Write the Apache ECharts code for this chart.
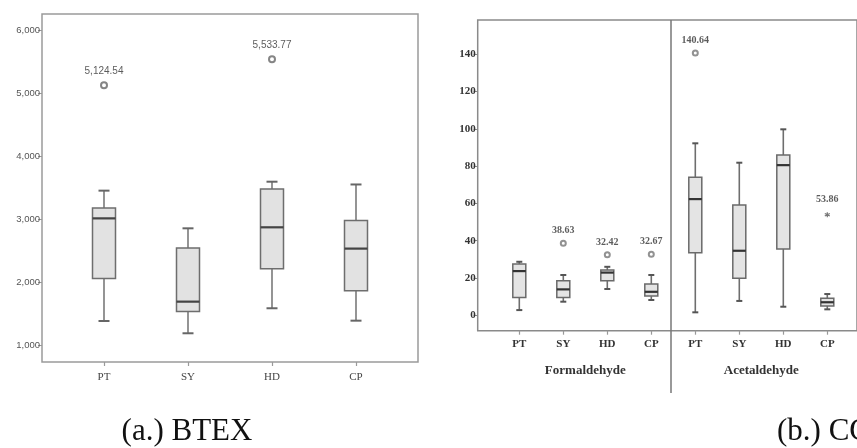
<!DOCTYPE html>
<html>
<head>
<meta charset="utf-8">
<script src="https://cdn.jsdelivr.net/npm/echarts@6/dist/echarts.min.js"></script>
<style>html,body{margin:0;padding:0;background:#fff}#c{width:857px;height:448px}</style>
</head>
<body>
<div id="c"></div>
<script>
// ---- data ----
const sites = ['PT', 'SY', 'HD', 'CP'];
// [min, Q1, median, Q3, max]
const btexBox = [
  [1381, 2055, 3010, 3175, 3450],
  [1186, 1532, 1688, 2538, 2852],
  [1583, 2212, 2868, 3476, 3592],
  [1386, 1860, 2530, 2978, 3548]
];
const btexOutliers = [[0, 5124.54], [2, 5533.77]];
const btexTicks = [1000, 2000, 3000, 4000, 5000, 6000];

const formBox = [
  [2.8, 9.6, 23.7, 27.5, 28.7],
  [7.3, 9.6, 13.9, 18.5, 21.6],
  [14.1, 18.5, 22.9, 24.3, 26.0],
  [8.2, 10.3, 12.6, 16.8, 21.6]
];
const formOutliers = [[1, 38.63], [2, 32.42], [3, 32.67]];

const acetBox = [
  [1.6, 33.5, 62.3, 74.0, 92.2],
  [7.7, 19.8, 34.6, 59.1, 81.8],
  [4.6, 35.5, 80.5, 85.9, 99.7],
  [3.2, 5.0, 7.0, 9.1, 11.4]
];
const acetOutliers = [[0, 140.64]];
const acetExtremes = [[3, 53.86]];
const ccTicks = [0, 20, 40, 60, 80, 100, 120, 140];

// ---- helpers ----
function boxRender(boxW, capW, colors) {
  return function (params, api) {
    const x = api.value(0);
    const pMin = api.coord([x, api.value(1)]);
    const pQ1 = api.coord([x, api.value(2)]);
    const pMed = api.coord([x, api.value(3)]);
    const pQ3 = api.coord([x, api.value(4)]);
    const pMax = api.coord([x, api.value(5)]);
    const cx = pMin[0];
    const ws = { stroke: colors.whisker, lineWidth: 1.6 };
    return {
      type: 'group',
      children: [
        { type: 'line', shape: { x1: cx, y1: pMax[1], x2: cx, y2: pQ3[1] }, style: ws },
        { type: 'line', shape: { x1: cx, y1: pQ1[1], x2: cx, y2: pMin[1] }, style: ws },
        { type: 'line', shape: { x1: cx - capW / 2, y1: pMax[1], x2: cx + capW / 2, y2: pMax[1] }, style: { stroke: colors.cap, lineWidth: 2 } },
        { type: 'line', shape: { x1: cx - capW / 2, y1: pMin[1], x2: cx + capW / 2, y2: pMin[1] }, style: { stroke: colors.cap, lineWidth: 2 } },
        { type: 'rect', shape: { x: cx - boxW / 2, y: pQ3[1], width: boxW, height: pQ1[1] - pQ3[1] },
          style: { fill: colors.fill, stroke: colors.border, lineWidth: 1.5 } },
        { type: 'line', shape: { x1: cx - boxW / 2, y1: pMed[1], x2: cx + boxW / 2, y2: pMed[1] },
          style: { stroke: colors.median, lineWidth: 2.2 } }
      ]
    };
  };
}
function toRows(box) { return box.map((b, i) => [i].concat(b)); }
function fmtThousands(v) {
  return Number(v).toLocaleString('en-US', { minimumFractionDigits: 0, maximumFractionDigits: 2 });
}

const leftColors = { whisker: '#7a7a7a', cap: '#666', fill: '#e2e2e2', border: '#6e6e6e', median: '#444' };
const rightColors = { whisker: '#6e6e6e', cap: '#555', fill: '#e4e4e4', border: '#6a6a6a', median: '#333' };

// layout
const L = { left: 42, top: 14, width: 376, height: 348, dataLeft: 62, dataWidth: 336 };
const R = { left: 477.7, top: 20, width: 420, height: 310.7, fLeft: 497.3, aLeft: 673.3, w: 176 };
const leftMin = 730, leftMax = 6254;
const rightMin = -8.25, rightMax = 158.3;

const serif = '"Liberation Serif", "Times New Roman", serif';
const sans = '"Liberation Sans", Arial, sans-serif';

const chart = echarts.init(document.getElementById('c'), null, { renderer: 'canvas' });

const hiddenY = (gi, mn, mx) => ({ type: 'value', gridIndex: gi, min: mn, max: mx, show: false, splitLine: { show: false } });

const catAxis = (gi, name) => ({
  type: 'category', gridIndex: gi, data: sites,
  name: name, nameLocation: 'middle', nameGap: 33, nameMoveOverlap: false,
  nameTextStyle: { fontFamily: serif, fontWeight: 'bold', fontSize: 13, color: '#333' },
  axisLine: { show: false, onZero: false },
  axisTick: { show: true, alignWithLabel: true, length: 4, lineStyle: { color: '#999', width: 1.2 } },
  axisLabel: { margin: 8, fontFamily: serif, fontWeight: 'bold', fontSize: 11, color: '#333' }
});

const option = {
  animation: false,
  backgroundColor: '#fff',
  grid: [
    { left: L.left, top: L.top, width: L.width, height: L.height, show: true, borderColor: '#9a9a9a', borderWidth: 1.5, backgroundColor: 'transparent' },
    { left: L.dataLeft, top: L.top, width: L.dataWidth, height: L.height },
    { left: R.left, top: R.top, width: R.width, height: R.height, show: true, borderColor: '#8a8a8a', borderWidth: 1.5, backgroundColor: 'transparent' },
    { left: R.fLeft, top: R.top, width: R.w, height: R.height },
    { left: R.aLeft, top: R.top, width: R.w, height: R.height }
  ],
  xAxis: [
    { type: 'value', gridIndex: 0, min: 0, max: 1, show: false },
    { type: 'category', gridIndex: 1, data: sites,
      axisLine: { show: false, onZero: false },
      axisTick: { show: true, alignWithLabel: true, length: 4, lineStyle: { color: '#9a9a9a', width: 1.2 } },
      axisLabel: { margin: 10, fontFamily: serif, fontSize: 11, color: '#444' } },
    { type: 'value', gridIndex: 2, min: 0, max: 1, show: false },
    catAxis(3, 'Formaldehyde'),
    catAxis(4, 'Acetaldehyde')
  ],
  yAxis: [
    { type: 'value', gridIndex: 0, min: leftMin, max: leftMax,
      axisLine: { show: false }, splitLine: { show: false },
      axisTick: { show: true, length: 4, customValues: btexTicks, lineStyle: { color: '#999' } },
      axisLabel: { customValues: btexTicks, margin: 2, fontFamily: sans, fontSize: 9.5, color: '#555',
        formatter: v => fmtThousands(v) } },
    hiddenY(1, leftMin, leftMax),
    { type: 'value', gridIndex: 2, min: rightMin, max: rightMax,
      axisLine: { show: false }, splitLine: { show: false },
      axisTick: { show: true, length: 4, customValues: ccTicks, lineStyle: { color: '#888' } },
      axisLabel: { customValues: ccTicks, margin: 2, fontFamily: serif, fontWeight: 'bold', fontSize: 11, color: '#333' } },
    hiddenY(3, rightMin, rightMax),
    hiddenY(4, rightMin, rightMax)
  ],
  series: [
    { type: 'custom', name: 'BTEX', xAxisIndex: 1, yAxisIndex: 1, data: toRows(btexBox),
      encode: { x: 0, y: [1, 2, 3, 4, 5] }, renderItem: boxRender(23, 11, leftColors) },
    { type: 'scatter', xAxisIndex: 1, yAxisIndex: 1, data: btexOutliers,
      symbol: 'emptyCircle', symbolSize: 6,
      itemStyle: { color: '#666', borderWidth: 1.2 },
      label: { show: true, position: 'top', distance: 5, fontFamily: sans, fontSize: 10, color: '#333',
        formatter: p => fmtThousands(p.value[1]) } },

    { type: 'custom', name: 'Formaldehyde', xAxisIndex: 3, yAxisIndex: 3, data: toRows(formBox),
      encode: { x: 0, y: [1, 2, 3, 4, 5] }, renderItem: boxRender(13, 6, rightColors) },
    { type: 'scatter', xAxisIndex: 3, yAxisIndex: 3, data: formOutliers,
      symbol: 'emptyCircle', symbolSize: 5,
      itemStyle: { color: '#777', borderWidth: 1 },
      label: { show: true, position: 'top', distance: 4, fontFamily: serif, fontWeight: 'bold', fontSize: 10, color: '#333',
        formatter: p => p.value[1].toFixed(2) } },

    { type: 'custom', name: 'Acetaldehyde', xAxisIndex: 4, yAxisIndex: 4, data: toRows(acetBox),
      encode: { x: 0, y: [1, 2, 3, 4, 5] }, renderItem: boxRender(13, 6, rightColors) },
    { type: 'scatter', xAxisIndex: 4, yAxisIndex: 4, data: acetOutliers,
      symbol: 'emptyCircle', symbolSize: 5,
      itemStyle: { color: '#777', borderWidth: 1 },
      label: { show: true, position: 'top', distance: 4, fontFamily: serif, fontWeight: 'bold', fontSize: 10, color: '#333',
        formatter: p => p.value[1].toFixed(2) } },
    { type: 'scatter', xAxisIndex: 4, yAxisIndex: 4, data: acetExtremes,
      symbol: 'path://M0,-10L0,10M-8.7,-5L8.7,5M-8.7,5L8.7,-5', symbolSize: 5,
      itemStyle: { color: 'none', borderColor: '#555', borderWidth: 1.2 },
      label: { show: true, position: 'top', distance: 5, fontFamily: serif, fontWeight: 'bold', fontSize: 10, color: '#333',
        formatter: p => p.value[1].toFixed(2) } }
  ],
  graphic: [
    { type: 'line', silent: true, shape: { x1: 671, y1: R.top, x2: 671, y2: 393 }, style: { stroke: '#777', lineWidth: 1.5 } },
    { type: 'text', silent: true, x: 187, y: 432,
      style: { text: '(a.) BTEX', font: '31px "Liberation Serif", "Times New Roman", serif', fill: '#111', align: 'center', verticalAlign: 'middle' } },
    { type: 'text', silent: true, x: 777, y: 432,
      style: { text: '(b.) CCs', font: '31px "Liberation Serif", "Times New Roman", serif', fill: '#111', align: 'left', verticalAlign: 'middle' } }
  ]
};
chart.setOption(option);
</script>
</body>
</html>
